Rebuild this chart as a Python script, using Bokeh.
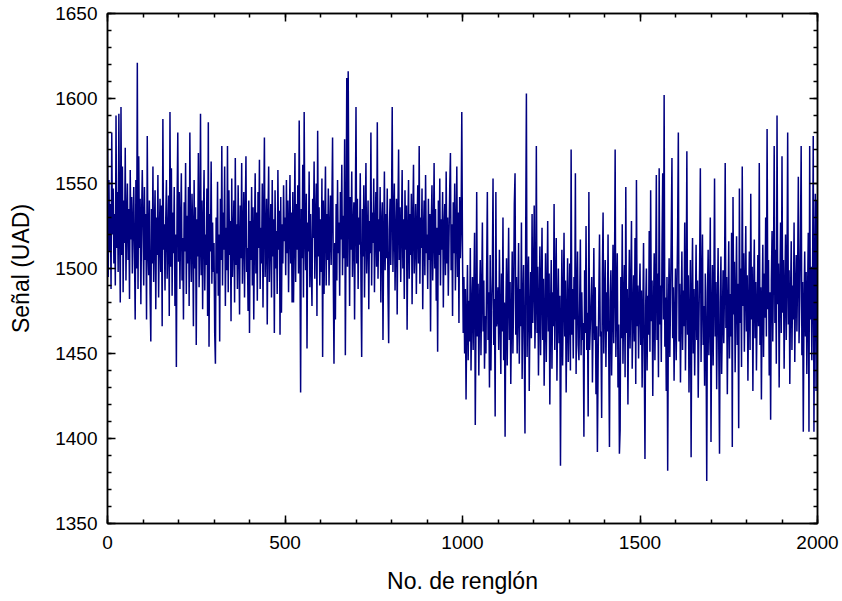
from bokeh.plotting import figure
from bokeh.models import Range1d, LinearAxis, FixedTicker
from bokeh.embed import file_html
from bokeh.resources import INLINE

# Señal (UAD), one value every 2 rows
signal_a = [  # rows 0-498
    1580, 1495, 1552, 1510, 1538, 1488, 1580, 1520, 1547, 1503, 1532, 1490, 1590, 1512, 1545, 1498, 1591, 1525, 1480, 1595,
    1508, 1560, 1486, 1540, 1515, 1571, 1493, 1528, 1550, 1505, 1535, 1482, 1558, 1517, 1542, 1497, 1526, 1548, 1509, 1470,
    1552, 1500, 1621, 1488, 1566, 1512, 1541, 1479, 1530, 1558,
    1525, 1490, 1548, 1505, 1532, 1470, 1578, 1512, 1496, 1540, 1485, 1457, 1535, 1503, 1560, 1492, 1521, 1546, 1476, 1530,
    1508, 1555, 1483, 1519, 1541, 1498, 1537, 1466, 1588, 1511, 1526, 1487, 1528, 1552, 1494, 1515, 1543, 1472, 1592, 1501,
    1559, 1484, 1533, 1509, 1548, 1478, 1520, 1442, 1537, 1580,
    1504, 1545, 1488, 1527, 1556, 1493, 1518, 1470, 1539, 1510, 1562, 1485, 1531, 1503, 1548, 1478, 1580, 1515, 1492, 1544,
    1523, 1466, 1552, 1500, 1536, 1455, 1529, 1507, 1568, 1489, 1513, 1591, 1496, 1540, 1476, 1525, 1558, 1487, 1520, 1502,
    1547, 1472, 1586, 1454, 1532, 1510, 1563, 1491, 1527, 1498,
    1515, 1462, 1444, 1530, 1497, 1551, 1484, 1520, 1457, 1541, 1505, 1572, 1490, 1533, 1511, 1560, 1478, 1524, 1499, 1572,
    1486, 1546, 1508, 1528, 1469, 1553, 1495, 1517, 1540, 1480, 1565, 1502, 1526, 1488, 1549, 1514, 1473, 1537, 1506, 1562,
    1491, 1521, 1545, 1483, 1530, 1566, 1498, 1512, 1475, 1540,
    1462, 1528, 1505, 1548, 1490, 1536, 1470, 1519, 1556, 1497, 1533, 1481, 1545, 1512, 1564, 1488, 1524, 1503, 1550, 1477,
    1530, 1577, 1495, 1515, 1541, 1467, 1527, 1560, 1492, 1518, 1538, 1483, 1552, 1507, 1529, 1462, 1546, 1500, 1522, 1485,
    1558, 1511, 1534, 1461, 1542, 1474, 1526, 1503, 1549, 1516,
]
signal_b = [  # rows 500-998
    1530, 1496, 1552, 1509, 1540, 1486, 1524, 1555, 1503, 1533, 1480, 1545, 1480, 1519, 1568, 1492, 1538, 1511, 1549, 1497,
    1587, 1516, 1427, 1535, 1506, 1561, 1483, 1592, 1520, 1499, 1544, 1453, 1527, 1510, 1557, 1489, 1532, 1502, 1478, 1541,
    1518, 1563, 1494, 1526, 1550, 1472, 1581, 1507, 1536, 1490,
    1529, 1498, 1553, 1448, 1540, 1485, 1526, 1560, 1490, 1532, 1505, 1547, 1490, 1521, 1543, 1502, 1536, 1577, 1496, 1444,
    1515, 1470, 1538, 1493, 1552, 1509, 1527, 1484, 1545, 1517, 1561, 1496, 1531, 1506, 1576, 1449, 1520, 1612, 1501, 1616,
    1534, 1478, 1542, 1511, 1557, 1495, 1523, 1539, 1470, 1528,
    1595, 1503, 1541, 1488, 1530, 1514, 1556, 1492, 1448, 1535, 1507, 1549, 1483, 1524, 1562, 1497, 1518, 1540, 1476, 1528,
    1509, 1580, 1490, 1533, 1515, 1553, 1486, 1522, 1545, 1501, 1586, 1494, 1529, 1510, 1548, 1480, 1526, 1539, 1458, 1517,
    1557, 1499, 1532, 1506, 1547, 1489, 1456, 1523, 1541, 1502,
    1534, 1595, 1498, 1527, 1550, 1487, 1519, 1541, 1473, 1531, 1570, 1505, 1536, 1492, 1523, 1558, 1500, 1529, 1482, 1546,
    1511, 1537, 1464, 1520, 1552, 1494, 1532, 1508, 1544, 1479, 1527, 1561, 1497, 1515, 1538, 1485, 1524, 1549, 1503, 1572,
    1491, 1530, 1512, 1547, 1476, 1521, 1540, 1496, 1555, 1509,
    1520, 1488, 1541, 1505, 1532, 1463, 1527, 1549, 1493, 1516, 1562, 1500, 1535, 1481, 1524, 1451, 1540, 1508, 1553, 1490,
    1529, 1511, 1545, 1477, 1522, 1538, 1496, 1557, 1503, 1530, 1484, 1518, 1547, 1568, 1499, 1526, 1472, 1539, 1509, 1550,
    1487, 1520, 1560, 1495, 1533, 1468, 1542, 1506, 1525, 1592,
]
signal_c = [  # rows 1000-1498
    1510, 1462, 1495, 1450, 1488, 1423, 1470, 1502, 1446, 1481, 1457, 1512, 1440, 1476, 1495, 1452, 1487, 1521, 1408, 1469,
    1545, 1460, 1491, 1437, 1478, 1505, 1449, 1484, 1527, 1463, 1493, 1441, 1472, 1450, 1498, 1545, 1458, 1486, 1430, 1508,
    1440, 1475, 1496, 1553, 1455, 1482, 1413, 1545, 1466, 1470,
    1489, 1452, 1511, 1471, 1438, 1497, 1463, 1530, 1446, 1480, 1401, 1474, 1506, 1443, 1485, 1524, 1458, 1492, 1432, 1469,
    1510, 1450, 1483, 1538, 1556, 1461, 1495, 1450, 1477, 1515, 1444, 1488, 1466, 1527, 1435, 1479, 1502, 1455, 1403, 1519,
    1603, 1448, 1484, 1507, 1428, 1472, 1498, 1459, 1532, 1468,
    1491, 1537, 1453, 1480, 1572, 1462, 1501, 1437, 1476, 1513, 1449, 1487, 1524, 1458, 1494, 1431, 1470, 1509, 1445, 1482,
    1528, 1463, 1497, 1420, 1475, 1505, 1441, 1486, 1466, 1538, 1452, 1490, 1518, 1434, 1473, 1500, 1456, 1484, 1384, 1467,
    1511, 1443, 1479, 1521, 1460, 1493, 1427, 1471, 1506, 1445,
    1476, 1503, 1440, 1570, 1461, 1488, 1447, 1495, 1470, 1556, 1438, 1482, 1510, 1455, 1446, 1478, 1517, 1449, 1486, 1458,
    1468, 1401, 1499, 1462, 1525, 1452, 1474, 1413, 1545, 1452, 1466, 1480, 1495, 1433, 1471, 1512, 1458, 1489, 1426, 1466,
    1392, 1444, 1483, 1520, 1460, 1463, 1412, 1496, 1533, 1450,
    1478, 1505, 1442, 1486, 1463, 1520, 1451, 1395, 1481, 1499, 1437, 1472, 1514, 1456, 1490, 1570, 1448, 1483, 1509, 1430,
    1467, 1391, 1405, 1495, 1459, 1526, 1444, 1479, 1502, 1436, 1548, 1462, 1488, 1420, 1474, 1511, 1453, 1485, 1528, 1441,
    1470, 1496, 1457, 1518, 1432, 1552, 1466, 1490, 1447, 1481,
]
signal_d = [  # rows 1500-1998
    1503, 1455, 1487, 1430, 1472, 1515, 1449, 1388, 1478, 1500, 1440, 1484, 1461, 1522, 1451, 1546, 1469, 1493, 1425, 1476,
    1509, 1446, 1486, 1555, 1458, 1497, 1436, 1559, 1467, 1490, 1445, 1512, 1556, 1470, 1602, 1454, 1483, 1428, 1495, 1381,
    1473, 1506, 1448, 1480, 1519, 1565, 1459, 1489, 1434, 1471,
    1500, 1446, 1485, 1522, 1580, 1457, 1491, 1433, 1475, 1510, 1452, 1487, 1466, 1527, 1440, 1479, 1569, 1461, 1496, 1427,
    1470, 1505, 1389, 1482, 1518, 1450, 1488, 1437, 1473, 1514, 1458, 1493, 1424, 1468, 1503, 1559, 1445, 1484, 1520, 1455,
    1478, 1431, 1497, 1463, 1375, 1486, 1511, 1449, 1476, 1530,
    1398, 1471, 1502, 1443, 1483, 1553, 1460, 1492, 1429, 1475, 1512, 1450, 1391, 1480, 1507, 1438, 1469, 1499, 1456, 1488,
    1562, 1465, 1495, 1426, 1477, 1516, 1447, 1485, 1460, 1521, 1395, 1542, 1473, 1504, 1439, 1482, 1519, 1455, 1491, 1406,
    1547, 1468, 1500, 1442, 1560, 1478, 1509, 1451, 1487, 1525,
    1463, 1496, 1434, 1478, 1510, 1452, 1544, 1470, 1501, 1428, 1485, 1517, 1459, 1492, 1440, 1476, 1508, 1466, 1562, 1455,
    1489, 1423, 1481, 1514, 1448, 1497, 1471, 1530, 1460, 1582, 1476, 1505, 1437, 1486, 1411, 1493, 1522, 1457, 1499, 1572,
    1468, 1511, 1444, 1590, 1479, 1503, 1430, 1488, 1527, 1462,
    1566, 1474, 1505, 1441, 1487, 1520, 1458, 1493, 1580, 1467, 1499, 1432, 1483, 1516, 1452, 1490, 1470, 1527, 1445, 1486,
    1508, 1463, 1496, 1554, 1456, 1481, 1519, 1572, 1449, 1492, 1404, 1478, 1510, 1460, 1498, 1438, 1484, 1521, 1404, 1572,
    1470, 1501, 1446, 1489, 1578, 1404, 1493, 1544, 1428, 1540,
]

x_ticks = [0, 500, 1000, 1500, 2000]
x_minor = list(range(0, 2001, 100))
y_ticks = [1350, 1400, 1450, 1500, 1550, 1600, 1650]
y_minor = list(range(1350, 1651, 10))
x_title = "No. de renglón"
y_title = "Señal (UAD)"

signal = signal_a + signal_b + signal_c + signal_d
rows = [2 * i for i in range(len(signal))]

FONT = "Liberation Sans"

p = figure(width=842, height=601, output_backend="svg", toolbar_location=None,
           x_range=Range1d(0, 2000), y_range=Range1d(1350, 1650),
           min_border_left=107, min_border_right=25, min_border_top=13, min_border_bottom=78)
p.background_fill_color = "white"
p.border_fill_color = "white"
p.xgrid.visible = False
p.ygrid.visible = False
p.outline_line_color = "black"
p.outline_line_width = 1.5

p.line(rows, signal, line_color="#000080", line_width=1.5)

def style(ax, ticks, minor, show_labels):
    ax.ticker = FixedTicker(ticks=ticks, minor_ticks=minor)
    ax.axis_line_color = "black"
    ax.axis_line_width = 1.5
    ax.major_tick_in = 8
    ax.major_tick_out = 0
    ax.minor_tick_in = 4
    ax.minor_tick_out = 0
    ax.major_tick_line_color = "black"
    ax.major_tick_line_width = 1.5
    ax.minor_tick_line_color = "black"
    ax.minor_tick_line_width = 1.5
    ax.major_label_text_font = FONT
    ax.major_label_text_font_size = "19px"
    ax.major_label_text_color = "black"
    if not show_labels:
        ax.major_label_overrides = {t: "" for t in ticks}
    ax.axis_label_text_font = FONT
    ax.axis_label_text_font_size = "23px"
    ax.axis_label_text_font_style = "normal"
    ax.axis_label_text_color = "black"

xa = p.xaxis[0]
style(xa, x_ticks, x_minor, True)
xa.axis_label = x_title
xa.major_label_standoff = 12
xa.axis_label_standoff = 16

ya = p.yaxis[0]
style(ya, y_ticks, y_minor, True)
ya.axis_label = y_title
ya.major_label_standoff = 10
ya.axis_label_standoff = 18

top = LinearAxis()
style(top, x_ticks, x_minor, False)
p.add_layout(top, "above")
right = LinearAxis()
style(right, y_ticks, y_minor, False)
p.add_layout(right, "right")

open("out.html", "w").write(file_html(p, INLINE))
